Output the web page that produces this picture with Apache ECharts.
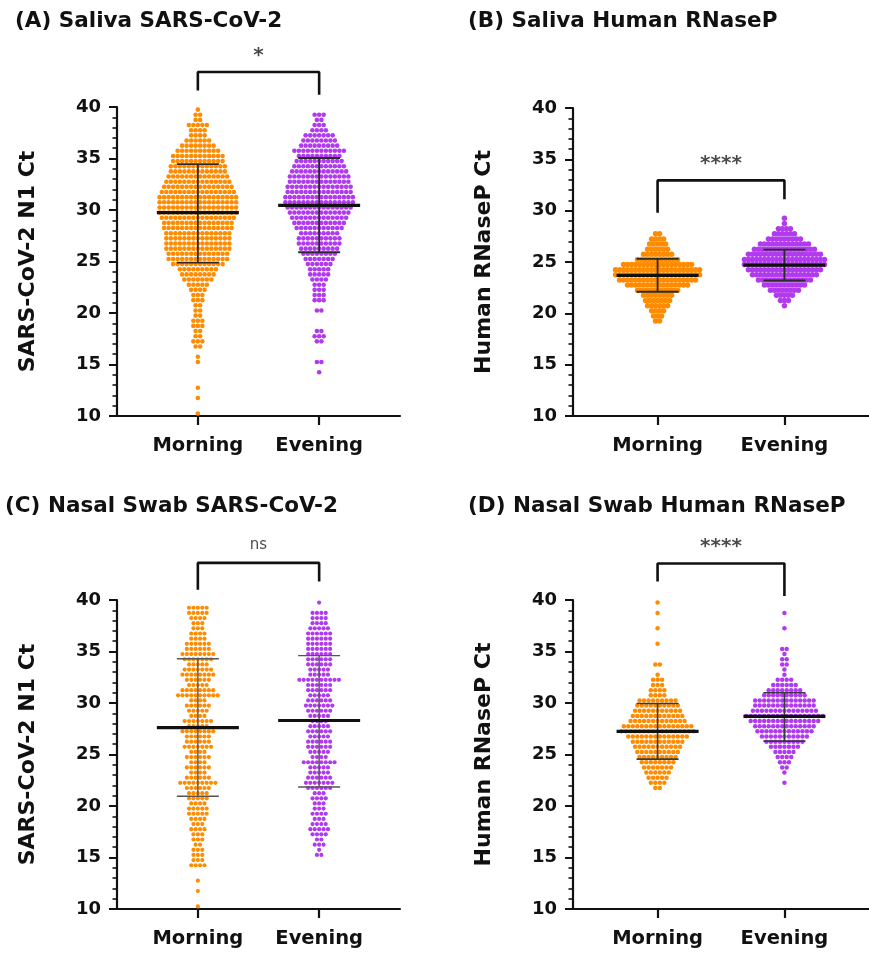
<!DOCTYPE html>
<html>
<head>
<meta charset="utf-8">
<script src="https://cdn.jsdelivr.net/npm/echarts@6.0.0/dist/echarts.min.js"></script>
<style>
  html, body { margin: 0; padding: 0; background: #fff; }
  #chart { width: 869px; height: 954px; }
</style>
</head>
<body>
<div id="chart"></div>
<script>
const groups = ['Morning', 'Evening']

// dot counts per 0.5 Ct row, rows from 10.0 to 40.0 (60 rows)
const ctBinStart = 10
const ctBinSize = 0.5

const salivaCovMorning = [
  1, 0, 0, 1, 0, 1, 0, 0, 0, 0,
  1, 1, 0, 2, 3, 2, 2, 3, 3, 2,
  2, 2, 3, 3, 4, 5, 7, 8, 9, 12,
  14, 14, 15, 15, 15, 15, 16, 16, 17, 18,
  18, 18, 18, 17, 16, 15, 14, 13, 13, 12,
  12, 10, 8, 6, 4, 4, 5, 2, 2, 1
]
const salivaCovEvening = [
  0, 0, 0, 0, 0, 0, 0, 0, 1, 0,
  2, 0, 0, 0, 2, 3, 2, 0, 0, 0,
  2, 0, 3, 3, 3, 3, 4, 5, 5, 6,
  7, 8, 9, 10, 10, 9, 11, 12, 13, 14,
  15, 16, 16, 15, 15, 14, 14, 13, 12, 11,
  10, 12, 9, 8, 7, 4, 3, 2, 3, 0
]
const salivaRnpMorning = [
  0, 0, 0, 0, 0, 0, 0, 0, 0, 0,
  0, 0, 0, 0, 0, 0, 0, 0, 2, 3,
  4, 6, 7, 8, 11, 16, 20, 22, 22, 18,
  11, 8, 6, 5, 4, 2, 0, 0, 0, 0,
  0, 0, 0, 0, 0, 0, 0, 0, 0, 0,
  0, 0, 0, 0, 0, 0, 0, 0, 0, 0
]
const salivaRnpEvening = [
  0, 0, 0, 0, 0, 0, 0, 0, 0, 0,
  0, 0, 0, 0, 0, 0, 0, 0, 0, 0,
  0, 1, 3, 5, 8, 11, 14, 17, 19, 21,
  21, 19, 16, 13, 9, 6, 4, 1, 1, 0,
  0, 0, 0, 0, 0, 0, 0, 0, 0, 0,
  0, 0, 0, 0, 0, 0, 0, 0, 0, 0
]
const nasalCovMorning = [
  1, 0, 0, 1, 0, 1, 0, 0, 4, 3,
  3, 3, 2, 3, 3, 4, 3, 4, 5, 5,
  4, 5, 5, 6, 9, 6, 4, 6, 4, 6,
  4, 7, 6, 6, 8, 5, 7, 4, 5, 6,
  4, 10, 8, 5, 6, 8, 7, 5, 7, 8,
  6, 6, 4, 4, 3, 3, 4, 5, 5, 0
]
const nasalCovEvening = [
  0, 0, 0, 0, 0, 0, 0, 0, 0, 0,
  2, 1, 3, 2, 4, 5, 4, 3, 4, 3,
  3, 4, 3, 6, 7, 6, 5, 5, 8, 4,
  5, 6, 6, 5, 6, 5, 4, 5, 6, 7,
  6, 5, 6, 6, 10, 5, 5, 6, 6, 6,
  6, 6, 6, 6, 5, 4, 4, 4, 0, 1
]
const nasalRnpMorning = [
  0, 0, 0, 0, 0, 0, 0, 0, 0, 0,
  0, 0, 0, 0, 0, 0, 0, 0, 0, 0,
  0, 0, 0, 2, 4, 5, 6, 7, 8, 9,
  10, 11, 12, 14, 17, 16, 13, 12, 11, 10,
  9, 4, 4, 3, 3, 1, 0, 2, 0, 0,
  0, 1, 0, 0, 1, 0, 0, 1, 0, 1
]
const nasalRnpEvening = [
  0, 0, 0, 0, 0, 0, 0, 0, 0, 0,
  0, 0, 0, 0, 0, 0, 0, 0, 0, 0,
  0, 0, 0, 0, 1, 0, 1, 2, 3, 4,
  5, 7, 9, 11, 13, 14, 16, 18, 15, 14,
  14, 10, 8, 6, 4, 1, 1, 2, 2, 1,
  2, 0, 0, 0, 1, 0, 0, 1, 0, 0
]

// mean and SD per group (Morning, Evening)
const salivaCovMean = [29.75, 30.45]
const salivaCovSdLow = [24.9, 25.9]
const salivaCovSdHigh = [34.45, 35.05]
const salivaRnpMean = [23.7, 24.7]
const salivaRnpSdLow = [22.1, 23.2]
const salivaRnpSdHigh = [25.3, 26.2]
const nasalCovMean = [27.6, 28.3]
const nasalCovSdLow = [20.95, 21.85]
const nasalCovSdHigh = [34.3, 34.6]
const nasalRnpMean = [27.25, 28.7]
const nasalRnpSdLow = [24.55, 26.3]
const nasalRnpSdHigh = [29.95, 31.0]

const panelTitles = ['(A) Saliva SARS-CoV-2', '(B) Saliva Human RNaseP', '(C) Nasal Swab SARS-CoV-2', '(D) Nasal Swab Human RNaseP']
const yNames = ['SARS-CoV-2 N1 Ct', 'Human RNaseP Ct', 'SARS-CoV-2 N1 Ct', 'Human RNaseP Ct']
const sigLabels = ['*', '****', 'ns', '****']
const bracketTop = [43.4, 32.95, 43.6, 43.55]
const bracketLeftEnd = [41.6, 29.8, 41.0, 41.8]
const bracketRightEnd = [41.2, 31.1, 41.8, 40.4]
const sigLabelY = [45.0, 34.6, 45.3, 45.2]

const ORANGE = '#FF8C00'
const PURPLE = '#B23AEE'
const FONT = '"DejaVu Sans", "Liberation Sans", Arial, sans-serif'
const X_MIN = 1 / 3
const X_MAX = 8 / 3

const panels = [
  { grid: { left: 117, top: 107, width: 283, height: 309 }, title: [15, 21],
    morning: salivaCovMorning, evening: salivaCovEvening,
    mean: salivaCovMean, lo: salivaCovSdLow, hi: salivaCovSdHigh,
    dot: 4.6, pitch: 4.5, sdColor: '#2a2a2a', sdWidth: 1.8 },
  { grid: { left: 573, top: 108, width: 296, height: 308 }, title: [468, 21],
    morning: salivaRnpMorning, evening: salivaRnpEvening,
    mean: salivaRnpMean, lo: salivaRnpSdLow, hi: salivaRnpSdHigh,
    dot: 5.5, pitch: 4, sdColor: '#2a2a2a', sdWidth: 1.8 },
  { grid: { left: 117, top: 600, width: 283, height: 309 }, title: [5, 506],
    morning: nasalCovMorning, evening: nasalCovEvening,
    mean: nasalCovMean, lo: nasalCovSdLow, hi: nasalCovSdHigh,
    dot: 4.2, pitch: 4.4, sdColor: '#555', sdWidth: 1.4 },
  { grid: { left: 573, top: 600, width: 296, height: 309 }, title: [468, 506],
    morning: nasalRnpMorning, evening: nasalRnpEvening,
    mean: nasalRnpMean, lo: nasalRnpSdLow, hi: nasalRnpSdHigh,
    dot: 4.5, pitch: 4.5, sdColor: '#3a3a3a', sdWidth: 1.6 }
]

function swarm(counts, xCenter, pitch) {
  const pts = []
  counts.forEach((n, k) => {
    const y = ctBinStart + ctBinSize * (k + 0.5)
    for (let i = 0; i < n; i++) {
      pts.push([xCenter + (i - (n - 1) / 2) * pitch, y])
    }
  })
  return pts
}

function errorBarItem(sdColor, sdWidth) {
  return function (params, api) {
    const x = api.value(0)
    const c = api.coord([x, api.value(1)])
    const l = api.coord([x, api.value(2)])
    const h = api.coord([x, api.value(3)])
    const cap = 21
    const half = 41
    const sd = { stroke: sdColor, lineWidth: sdWidth }
    return {
      type: 'group',
      children: [
        { type: 'line', shape: { x1: l[0], y1: l[1], x2: h[0], y2: h[1] }, style: sd },
        { type: 'line', shape: { x1: h[0] - cap, y1: h[1], x2: h[0] + cap, y2: h[1] }, style: sd },
        { type: 'line', shape: { x1: l[0] - cap, y1: l[1], x2: l[0] + cap, y2: l[1] }, style: sd },
        { type: 'line', shape: { x1: c[0] - half, y1: c[1], x2: c[0] + half, y2: c[1] },
          style: { stroke: '#111', lineWidth: 3.2 } }
      ]
    }
  }
}

const grid = []
const xAxis = []
const yAxis = []
const series = []
const graphic = []

panels.forEach((p, i) => {
  grid.push(Object.assign({ outerBoundsMode: 'none', containLabel: false }, p.grid))
  xAxis.push({
    gridIndex: i, type: 'value', min: X_MIN, max: X_MAX,
    splitLine: { show: false },
    axisLine: { show: true, onZero: false, lineStyle: { color: '#111', width: 2.2 } },
    axisTick: { show: true, customValues: [1, 2], length: 9, lineStyle: { color: '#111', width: 2.2 } },
    axisLabel: {
      show: true, customValues: [1, 2], margin: 20,
      formatter: (v) => groups[Math.round(v) - 1],
      color: '#111', fontSize: 19.5, fontWeight: 'bold', fontFamily: FONT
    }
  })
  yAxis.push({
    gridIndex: i, type: 'value', min: 10, max: 40, interval: 5,
    name: yNames[i], nameLocation: 'middle', nameGap: 78,
    nameTextStyle: { color: '#111', fontSize: 22, fontWeight: 'bold', fontFamily: FONT },
    splitLine: { show: false },
    axisLine: { show: true, lineStyle: { color: '#111', width: 2.2 } },
    axisTick: { show: true, length: 8, lineStyle: { color: '#111', width: 2 } },
    minorTick: { show: true, splitNumber: 5, length: 4.5, lineStyle: { color: '#111', width: 1.6 } },
    axisLabel: { margin: 16, color: '#111', fontSize: 18, fontWeight: 'bold', fontFamily: FONT }
  })

  const pxPerUnit = p.grid.width / (X_MAX - X_MIN)
  const pitch = p.pitch / pxPerUnit

  series.push({
    type: 'scatter', xAxisIndex: i, yAxisIndex: i, symbol: 'circle', symbolSize: p.dot,
    itemStyle: { color: ORANGE, opacity: 1 }, data: swarm(p.morning, 1, pitch), z: 2, silent: true
  })
  series.push({
    type: 'scatter', xAxisIndex: i, yAxisIndex: i, symbol: 'circle', symbolSize: p.dot,
    itemStyle: { color: PURPLE, opacity: 1 }, data: swarm(p.evening, 2, pitch), z: 2, silent: true
  })
  series.push({
    type: 'custom', xAxisIndex: i, yAxisIndex: i, z: 5, silent: true,
    renderItem: errorBarItem(p.sdColor, p.sdWidth),
    data: [1, 2].map((x, g) => [x, p.mean[g], p.lo[g], p.hi[g]])
  })
  series.push({
    type: 'line', xAxisIndex: i, yAxisIndex: i, clip: false, symbol: 'none', z: 6, silent: true,
    lineStyle: { color: '#111', width: 2.6 },
    data: [[1, bracketLeftEnd[i]], [1, bracketTop[i]], [2, bracketTop[i]], [2, bracketRightEnd[i]]]
  })
  const isNs = sigLabels[i] === 'ns'
  series.push({
    type: 'scatter', xAxisIndex: i, yAxisIndex: i, clip: false, symbolSize: 0, z: 6, silent: true,
    data: [[1.5, sigLabelY[i]]],
    label: {
      show: true, position: 'inside', formatter: sigLabels[i],
      color: '#1a1a1a', fontFamily: FONT,
      fontSize: isNs ? 15 : 20, fontWeight: isNs ? 'normal' : 'bold'
    }
  })
  graphic.push({
    type: 'text', x: p.title[0], y: p.title[1],
    style: {
      text: panelTitles[i], fill: '#111', font: 'bold 21.5px ' + FONT,
      textVerticalAlign: 'middle', verticalAlign: 'middle'
    }
  })
})

const chart = echarts.init(document.getElementById('chart'), null, { renderer: 'canvas' })
chart.setOption({
  animation: false,
  backgroundColor: '#fff',
  grid, xAxis, yAxis, series, graphic
})
</script>
</body>
</html>
